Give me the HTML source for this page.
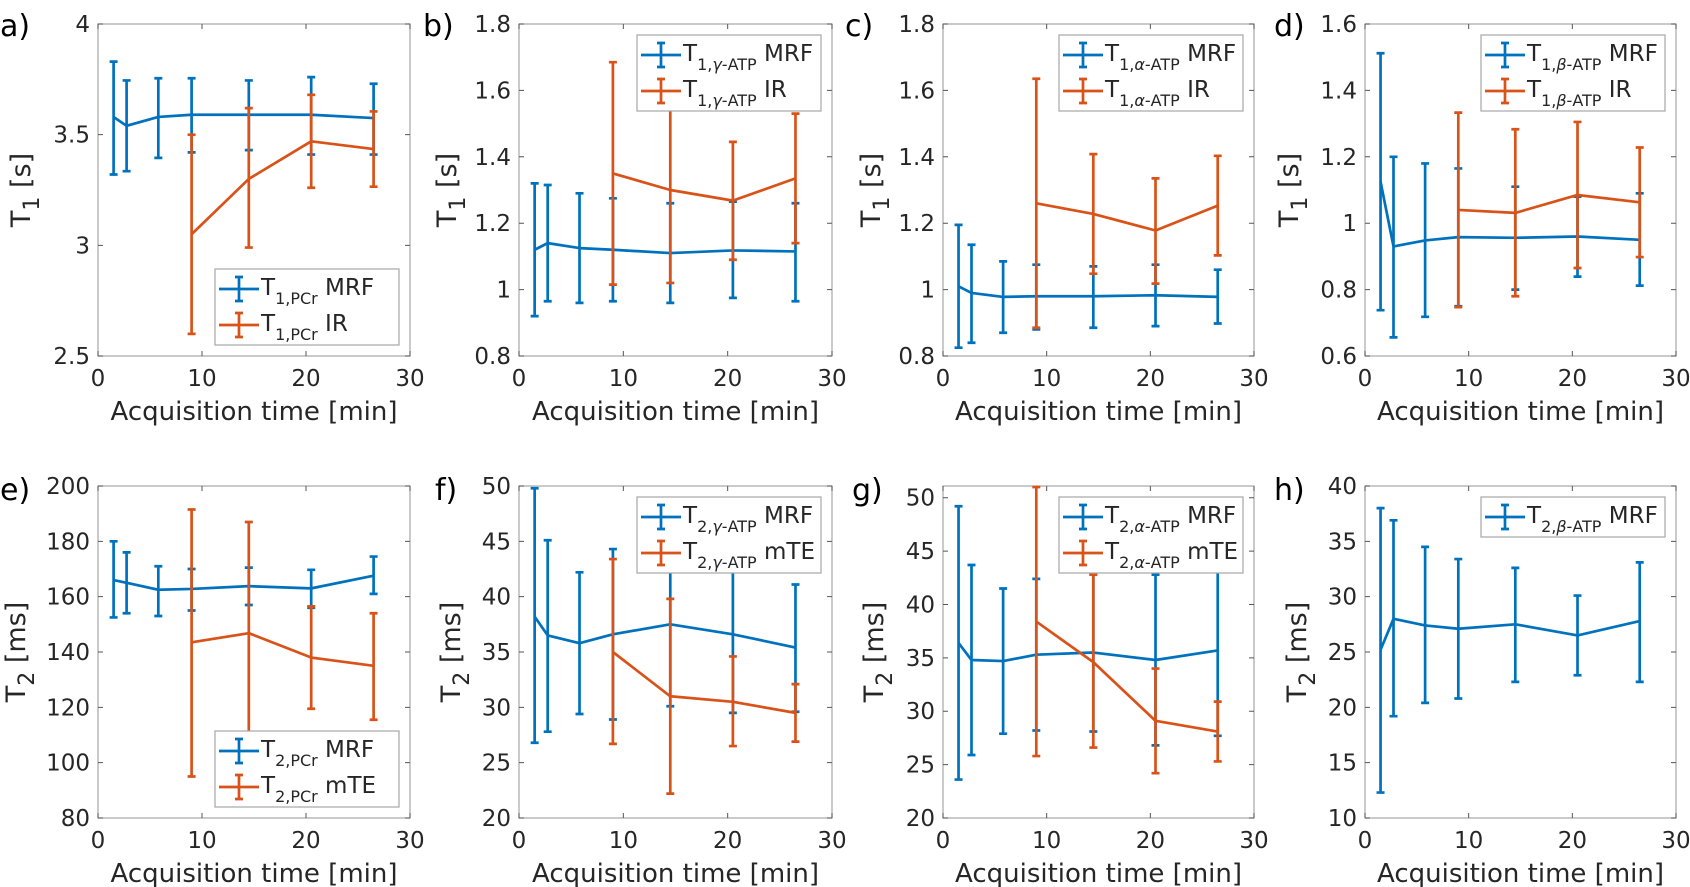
<!DOCTYPE html>
<html><head><meta charset="utf-8">
<style>
html,body{margin:0;padding:0;background:#fff;}
svg{display:block;font-family:"DejaVu Sans","Liberation Sans",sans-serif;}
</style></head>
<body>
<svg id="fig" width="1690" height="887" viewBox="0 0 1690 887" xmlns="http://www.w3.org/2000/svg"></svg>
<script>
// ---- data ----
const xMRF = [1.5, 2.75, 5.8, 9.0, 14.5, 20.5, 26.5];
const xRef = [9.0, 14.5, 20.5, 26.5];
const xTicks = [0, 10, 20, 30];

// a) T1 PCr
const aMrfMean = [3.58, 3.54, 3.58, 3.59, 3.59, 3.59, 3.575];
const aMrfLo = [3.32, 3.335, 3.395, 3.42, 3.43, 3.41, 3.41];
const aMrfHi = [3.83, 3.745, 3.755, 3.755, 3.745, 3.76, 3.73];
const aRefMean = [3.05, 3.30, 3.47, 3.435];
const aRefLo = [2.6, 2.99, 3.26, 3.265];
const aRefHi = [3.5, 3.62, 3.68, 3.605];
const aTicks = [2.5, 3, 3.5, 4];

// b) T1 gamma-ATP
const bMrfMean = [1.12, 1.14, 1.125, 1.12, 1.11, 1.118, 1.115];
const bMrfLo = [0.92, 0.965, 0.96, 0.965, 0.96, 0.975, 0.965];
const bMrfHi = [1.32, 1.315, 1.29, 1.275, 1.26, 1.265, 1.26];
const bRefMean = [1.35, 1.30, 1.268, 1.335];
const bRefLo = [1.015, 1.02, 1.09, 1.14];
const bRefHi = [1.685, 1.58, 1.445, 1.53];
const bTicks = [0.8, 1, 1.2, 1.4, 1.6, 1.8];

// c) T1 alpha-ATP
const cMrfMean = [1.01, 0.99, 0.978, 0.98, 0.98, 0.983, 0.978];
const cMrfLo = [0.825, 0.84, 0.87, 0.88, 0.885, 0.89, 0.898];
const cMrfHi = [1.195, 1.135, 1.085, 1.075, 1.07, 1.075, 1.06];
const cRefMean = [1.26, 1.228, 1.178, 1.253];
const cRefLo = [0.885, 1.048, 1.018, 1.103];
const cRefHi = [1.635, 1.408, 1.335, 1.403];
const cTicks = [0.8, 1, 1.2, 1.4, 1.6, 1.8];

// d) T1 beta-ATP
const dMrfMean = [1.125, 0.93, 0.948, 0.958, 0.956, 0.96, 0.95];
const dMrfLo = [0.738, 0.656, 0.718, 0.75, 0.8, 0.839, 0.812];
const dMrfHi = [1.512, 1.2, 1.18, 1.165, 1.11, 1.08, 1.09];
const dRefMean = [1.04, 1.031, 1.085, 1.063];
const dRefLo = [0.747, 0.78, 0.865, 0.898];
const dRefHi = [1.333, 1.283, 1.305, 1.228];
const dTicks = [0.6, 0.8, 1, 1.2, 1.4, 1.6];

// e) T2 PCr
const eMrfMean = [166, 165, 162.5, 162.8, 163.8, 163, 167.6];
const eMrfLo = [152.5, 154, 153, 155, 157, 156, 161];
const eMrfHi = [180, 176, 171, 170, 170.5, 169.7, 174.5];
const eRefMean = [143.5, 146.8, 138, 135];
const eRefLo = [95, 106.6, 119.5, 115.5];
const eRefHi = [191.5, 187, 156.5, 154];
const eTicks = [80, 100, 120, 140, 160, 180, 200];

// f) T2 gamma-ATP
const fMrfMean = [38.2, 36.5, 35.8, 36.6, 37.5, 36.6, 35.4];
const fMrfLo = [26.8, 27.8, 29.4, 28.9, 30.1, 29.5, 29.6];
const fMrfHi = [49.8, 45.1, 42.2, 44.3, 44.9, 43.7, 41.1];
const fRefMean = [35.0, 31.0, 30.5, 29.5];
const fRefLo = [26.7, 22.2, 26.5, 26.9];
const fRefHi = [43.4, 39.8, 34.6, 32.1];
const fTicks = [20, 25, 30, 35, 40, 45, 50];

// g) T2 alpha-ATP
const gMrfMean = [36.4, 34.8, 34.7, 35.3, 35.5, 34.8, 35.7];
const gMrfLo = [23.6, 25.9, 27.9, 28.2, 28.1, 26.8, 27.7];
const gMrfHi = [49.2, 43.7, 41.5, 42.4, 42.9, 42.8, 43.7];
const gRefMean = [38.4, 34.6, 29.1, 28.1];
const gRefLo = [25.8, 26.6, 24.2, 25.3];
const gRefHi = [51.0, 42.8, 34.0, 30.9];
const gTicks = [20, 25, 30, 35, 40, 45, 50];

// h) T2 beta-ATP
const hMrfMean = [25.2, 28.0, 27.4, 27.1, 27.5, 26.5, 27.8];
const hMrfLo = [12.3, 19.2, 20.4, 20.8, 22.3, 22.9, 22.3];
const hMrfHi = [38.0, 36.9, 34.5, 33.4, 32.6, 30.1, 33.1];
const hTicks = [10, 15, 20, 25, 30, 35, 40];

// ---- drawing ----
const NS = 'http://www.w3.org/2000/svg';
const svg = document.getElementById('fig');
const BLUE = '#0072BD', ORANGE = '#D95319', TXT = '#262626', AX = '#a6a6a6';
function mk(tag, attrs, parent) {
  const e = document.createElementNS(NS, tag);
  for (const k in attrs) e.setAttribute(k, attrs[k]);
  (parent || svg).appendChild(e);
  return e;
}
function addLabel(parent, x, y, parts, size, anchor, rot, subSize, subDy) {
  const t = mk('text', {x: x, y: y, 'font-size': size, fill: TXT, 'text-anchor': anchor || 'start'}, parent);
  if (rot) t.setAttribute('transform', 'rotate(-90 ' + x + ' ' + y + ')');
  let shift = 0;
  parts.forEach(p => {
    const s = mk('tspan', {}, t);
    const target = p.sub ? subDy : 0;
    if (target !== shift) { s.setAttribute('dy', target - shift); shift = target; }
    if (p.sub) s.setAttribute('font-size', subSize);
    if (p.it) s.setAttribute('font-style', 'italic');
    s.textContent = p.t;
  });
  return t;
}
function fmt(v) { return String(Math.round(v * 100) / 100); }

const panels = [
  {id:'a', L:98, R:410, T:24, B:356, ymin:2.5, ymax:4, ticks:aTicks, mrf:[aMrfMean,aMrfLo,aMrfHi], ref:[aRefMean,aRefLo,aRefHi], yl:22, letter:[0,36], ylab:['1',' [s]'], leg:'br', sub:[{t:'1,PCr',sub:1}], refName:' IR'},
  {id:'b', L:519, R:832, T:24, B:356, ymin:0.8, ymax:1.8, ticks:bTicks, mrf:[bMrfMean,bMrfLo,bMrfHi], ref:[bRefMean,bRefLo,bRefHi], yl:448, letter:[423,36], ylab:['1',' [s]'], leg:'tr', sub:[{t:'1,',sub:1},{t:'γ',sub:1,it:1},{t:'-ATP',sub:1}], refName:' IR'},
  {id:'c', L:943, R:1254, T:24, B:356, ymin:0.8, ymax:1.8, ticks:cTicks, mrf:[cMrfMean,cMrfLo,cMrfHi], ref:[cRefMean,cRefLo,cRefHi], yl:872, letter:[845,36], ylab:['1',' [s]'], leg:'tr', sub:[{t:'1,',sub:1},{t:'α',sub:1,it:1},{t:'-ATP',sub:1}], refName:' IR'},
  {id:'d', L:1365, R:1676, T:24, B:356, ymin:0.6, ymax:1.6, ticks:dTicks, mrf:[dMrfMean,dMrfLo,dMrfHi], ref:[dRefMean,dRefLo,dRefHi], yl:1290, letter:[1274,36], ylab:['1',' [s]'], leg:'tr', sub:[{t:'1,',sub:1},{t:'β',sub:1,it:1},{t:'-ATP',sub:1}], refName:' IR'},
  {id:'e', L:98, R:410, T:486, B:818, ymin:80, ymax:200, ticks:eTicks, mrf:[eMrfMean,eMrfLo,eMrfHi], ref:[eRefMean,eRefLo,eRefHi], yl:17, letter:[0,500], ylab:['2',' [ms]'], leg:'br', sub:[{t:'2,PCr',sub:1}], refName:' mTE'},
  {id:'f', L:519, R:832, T:486, B:818, ymin:20, ymax:50, ticks:fTicks, mrf:[fMrfMean,fMrfLo,fMrfHi], ref:[fRefMean,fRefLo,fRefHi], yl:452, letter:[435,500], ylab:['2',' [ms]'], leg:'tr', sub:[{t:'2,',sub:1},{t:'γ',sub:1,it:1},{t:'-ATP',sub:1}], refName:' mTE'},
  {id:'g', L:943, R:1254, T:486, B:818, ymin:20, ymax:51.1, ticks:gTicks, mrf:[gMrfMean,gMrfLo,gMrfHi], ref:[gRefMean,gRefLo,gRefHi], yl:875, letter:[852,500], ylab:['2',' [ms]'], leg:'tr', sub:[{t:'2,',sub:1},{t:'α',sub:1,it:1},{t:'-ATP',sub:1}], refName:' mTE'},
  {id:'h', L:1365, R:1676, T:486, B:818, ymin:10, ymax:40, ticks:hTicks, mrf:[hMrfMean,hMrfLo,hMrfHi], ref:null, yl:1298, letter:[1274,500], ylab:['2',' [ms]'], leg:'tr', sub:[{t:'2,',sub:1},{t:'β',sub:1,it:1},{t:'-ATP',sub:1}], refName:''}
];

function series(g, xs, arr, color, sx, sy, name) {
  const [m, lo, hi] = arr;
  const sg = mk('g', {}, g);
  
  
  xs.forEach((x, i) => {
    const X = sx(x);
    const bar = mk('path', {d: 'M' + X + ' ' + sy(lo[i]) + 'V' + sy(hi[i]) + 'M' + (X - 4) + ' ' + sy(lo[i]) + 'h8M' + (X - 4) + ' ' + sy(hi[i]) + 'h8', stroke: color, 'stroke-width': 2.7, fill: 'none'}, sg);
    
    
  });
  const ln = mk('polyline', {points: xs.map((x, i) => sx(x) + ',' + sy(m[i])).join(' '), stroke: color, 'stroke-width': 2.7, fill: 'none', 'stroke-linejoin': 'round'}, sg);
  
  
}

panels.forEach(p => {
  const g = mk('g', {});
  
  
  const sx = v => p.L + (v - 0) / 30 * (p.R - p.L);
  const sy = v => p.B - (v - p.ymin) / (p.ymax - p.ymin) * (p.B - p.T);
  const box = mk('rect', {x: p.L, y: p.T, width: p.R - p.L, height: p.B - p.T, fill: '#fff', stroke: AX, 'stroke-width': 1.2}, g);
  
  
  xTicks.forEach(t => {
    const X = sx(t);
    mk('path', {d: 'M' + X + ' ' + p.B + 'v-5M' + X + ' ' + p.T + 'v5', stroke: '#555', 'stroke-width': 1}, g);
    const lab = mk('text', {x: X, y: p.B + 30, 'font-size': 23, fill: TXT, 'text-anchor': 'middle'}, g);
    
    
    lab.textContent = t;
  });
  p.ticks.forEach(t => {
    const Y = sy(t);
    mk('path', {d: 'M' + p.L + ' ' + Y + 'h5M' + p.R + ' ' + Y + 'h-5', stroke: '#555', 'stroke-width': 1}, g);
    const lab = mk('text', {x: p.L - 8, y: Y + 8, 'font-size': 23, fill: TXT, 'text-anchor': 'end'}, g);
    
    
    lab.textContent = fmt(t);
  });
  const xt = mk('text', {x: (p.L + p.R) / 2, y: p.B + 64, 'font-size': 26, fill: TXT, 'text-anchor': 'middle'}, g);
  
  
  xt.textContent = 'Acquisition time [min]';
  const yt = addLabel(g, p.yl + 8, (p.T + p.B) / 2, [{t: 'T'}, {t: p.ylab[0], sub: 1}, {t: p.ylab[1]}], 27, 'middle', true, 22, 9);
  
  
  const lt = mk('text', {x: p.letter[0], y: p.letter[1], 'font-size': 30, fill: '#000'}, g);
  
  
  lt.textContent = p.id + ')';
  series(g, xMRF, p.mrf, BLUE, sx, sy, 'series-mrf');
  if (p.ref) series(g, xRef, p.ref, ORANGE, sx, sy, 'series-reference');
  const entries = p.ref ? 2 : 1;
  const lw = 184, lh = entries === 2 ? 76 : 40;
  const lx = p.R - 11 - lw;
  const ly = p.leg === 'tr' ? p.T + 11 : p.B - 11 - lh;
  const lg = mk('g', {}, g);
  
  
  mk('rect', {x: lx, y: ly, width: lw, height: lh, fill: '#fff', stroke: AX, 'stroke-width': 1.2}, lg);
  const names = [' MRF', p.refName];
  const cols = [BLUE, ORANGE];
  for (let i = 0; i < entries; i++) {
    const cy = ly + 20 + i * 36;
    const eg = mk('g', {}, lg);
    
    
    const c = cols[i];
    mk('path', {d: 'M' + (lx + 4) + ' ' + cy + 'h40M' + (lx + 24) + ' ' + (cy - 12) + 'v24M' + (lx + 20) + ' ' + (cy - 12) + 'h8M' + (lx + 20) + ' ' + (cy + 12) + 'h8', stroke: c, 'stroke-width': 2.7, fill: 'none'}, eg);
    addLabel(eg, lx + 46, cy + 6, [{t: 'T'}].concat(p.sub).concat([{t: names[i]}]), 23, 'start', false, 16, 9);
  }
});
</script>
</body></html>
